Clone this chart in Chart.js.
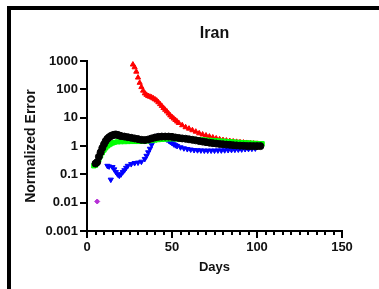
<!DOCTYPE html>
<html>
<head>
<meta charset="utf-8">
<script src="https://cdn.jsdelivr.net/npm/chart.js@4"></script>
<style>
  html, body { margin: 0; padding: 0; background: #fff; }
  #wrap { position: relative; width: 379px; height: 289px; overflow: hidden; }
  #frame { position: absolute; left: 7px; top: 6px; width: 400px; height: 300px;
           border-left: 4px solid #000; border-top: 4px solid #000; }
  canvas { position: absolute; left: 0; top: 0; }
</style>
</head>
<body>
<div id="wrap">
  <div id="frame"></div>
  <canvas id="chart" width="379" height="289"></canvas>
</div>
<script>
// ---- data --------------------------------------------------------
const Y_TICKS = [0.001, 0.01, 0.1, 1, 10, 100, 1000];

const purpleDays = [6];
const purpleVals = [0.011];

const redDays = [27, 28, 29, 30, 31, 32, 33, 34, 35, 36, 37, 38, 39, 40, 41, 42, 43, 44, 45, 46, 47, 48, 49, 50,
  51, 52, 53, 54, 56, 58, 60, 62, 64, 66, 68, 70, 72, 74, 76, 78, 80, 82, 84, 86, 88, 90, 92, 94, 96, 98, 100];
const redVals = [750, 600, 420, 260, 170, 120, 90, 72, 64, 58, 55, 52, 48, 44, 40, 35, 30, 26, 22, 19, 16.5, 14, 12, 10.5,
  9.3, 8.3, 7.3, 6.5, 5.4, 4.6, 4.1, 3.6, 3.2, 2.8, 2.55, 2.35, 2.15, 2.0, 1.85, 1.72, 1.62, 1.55, 1.5, 1.45, 1.4, 1.36, 1.32, 1.28, 1.25, 1.22, 1.2];

const blueDays = [12, 13, 14, 15, 16, 17, 18, 19, 20, 21, 22, 23, 24, 26, 28, 30, 32, 34, 35, 36, 37, 38, 39, 40, 41, 42, 43,
  44, 45, 46, 47, 48, 49, 50, 51, 52, 53, 55, 57, 59, 61, 63, 65, 67, 69, 71, 73, 75, 77, 79, 81, 83, 85, 87, 89, 91, 93, 95, 97, 99];
const blueVals = [0.2, 0.19, 0.065, 0.18, 0.15, 0.12, 0.1, 0.09, 0.1, 0.12, 0.14, 0.17, 0.2, 0.23, 0.25, 0.26, 0.28, 0.35, 0.45, 0.6, 0.8, 1.1, 1.5, 1.9, 2.2, 2.3, 2.2,
  2.1, 2.0, 1.85, 1.7, 1.55, 1.4, 1.28, 1.15, 1.07, 1.0, 0.9, 0.83, 0.78, 0.75, 0.72, 0.71, 0.7, 0.69, 0.69, 0.69, 0.69, 0.7, 0.7, 0.71, 0.72, 0.73, 0.74, 0.75, 0.76, 0.78, 0.79, 0.8, 0.82];

const greenDays = [4, 5, 6, 7, 8, 9, 10, 11, 12, 13, 14, 15, 16, 18, 20, 22, 24, 26, 28, 30, 32, 34, 36, 38, 40, 42, 44, 46, 48,
  50, 52, 54, 56, 58, 60, 62, 64, 66, 68, 70, 72, 74, 76, 78, 80, 82, 84, 86, 88, 90, 92, 94, 96, 98, 100, 102, 103];
const greenVals = [0.2, 0.21, 0.25, 0.33, 0.45, 0.58, 0.72, 0.86, 1.0, 1.1, 1.2, 1.28, 1.34, 1.4, 1.42, 1.43, 1.44, 1.45, 1.45, 1.45, 1.46, 1.48, 1.52, 1.56, 1.62, 1.68, 1.72, 1.75, 1.78,
  1.8, 1.78, 1.76, 1.74, 1.73, 1.72, 1.7, 1.69, 1.67, 1.65, 1.62, 1.59, 1.56, 1.53, 1.5, 1.48, 1.45, 1.42, 1.39, 1.36, 1.33, 1.31, 1.29, 1.27, 1.25, 1.22, 1.2, 1.2];

const blackDays = [5, 6, 7, 8, 9, 10, 11, 12, 13, 14, 15, 16, 17, 18, 19, 20, 22, 24, 26, 28, 30, 32, 34, 36, 38, 40, 42, 44, 46, 48,
  50, 52, 54, 56, 58, 60, 62, 64, 66, 68, 70, 72, 74, 76, 78, 80, 82, 84, 86, 88, 90, 92, 94, 96, 98, 100, 102];
const blackVals = [0.24, 0.27, 0.42, 0.6, 0.85, 1.15, 1.5, 1.8, 2.05, 2.25, 2.4, 2.5, 2.55, 2.45, 2.35, 2.25, 2.15, 2.05, 1.95, 1.85, 1.75, 1.65, 1.62, 1.7, 1.85, 2.0, 2.1, 2.15, 2.15, 2.15,
  2.1, 2.0, 1.92, 1.85, 1.8, 1.72, 1.65, 1.58, 1.5, 1.43, 1.37, 1.31, 1.26, 1.22, 1.18, 1.15, 1.12, 1.1, 1.07, 1.05, 1.03, 1.02, 1.0, 1.0, 0.99, 0.99, 0.99];

const FONT = "'Liberation Sans', Arial, sans-serif";
const INK = "#111";

function pts(days, vals) {
  return days.map((d, i) => ({ x: d, y: vals[i] }));
}

function series(days, vals, color, style, radius, order, rotation) {
  return {
    data: pts(days, vals),
    backgroundColor: color,
    borderColor: color,
    borderWidth: 1,
    pointStyle: style,
    pointRadius: radius,
    rotation: rotation || 0,
    showLine: false,
    order,
  };
}

// longer tick marks at the labelled x values
const majorTicks = {
  id: "majorTicks",
  afterDraw(chart) {
    const sx = chart.scales.x;
    const ctx = chart.ctx;
    ctx.save();
    ctx.strokeStyle = "#000";
    ctx.lineWidth = 2;
    sx.ticks.forEach((t) => {
      if (t.value % 50 !== 0) return;
      const px = sx.getPixelForValue(t.value);
      ctx.beginPath();
      ctx.moveTo(px, sx.top);
      ctx.lineTo(px, sx.top + 7);
      ctx.stroke();
    });
    ctx.restore();
  },
};

new Chart(document.getElementById("chart"), {
  type: "scatter",
  data: {
    datasets: [
      series(purpleDays, purpleVals, "#b62fd6", "rectRot", 2.5, 0),
      series(blackDays, blackVals, "#000000", "circle", 3.5, 1),
      series(greenDays, greenVals, "#00ff00", "rect", 3, 2),
      series(blueDays, blueVals, "#0000ff", "triangle", 3, 3, 180),
      series(redDays, redVals, "#ff0000", "triangle", 3, 4),
    ],
  },
  options: {
    responsive: false,
    animation: false,
    layout: { padding: { left: 0, top: 0, right: 37, bottom: 14 } },
    plugins: { legend: { display: false }, tooltip: { enabled: false } },
    scales: {
      x: {
        type: "linear",
        min: 0,
        max: 150,
        afterFit: (s) => { s.height = 44; },
        border: { color: "#000", width: 2 },
        grid: { drawOnChartArea: false, color: "#000", tickLength: 4, lineWidth: 2 },
        ticks: {
          stepSize: 5,
          autoSkip: false,
          maxRotation: 0,
          padding: 5,
          color: INK,
          font: { family: FONT, size: 13, weight: "bold" },
          callback: (v) => (v % 50 === 0 ? String(v) : ""),
        },
        title: {
          display: true,
          text: "Days",
          color: INK,
          padding: { top: 0, bottom: 0 },
          font: { family: FONT, size: 13, weight: "bold" },
        },
      },
      top: {
        type: "linear",
        position: "top",
        min: 0,
        max: 150,
        afterFit: (s) => { s.height = 61; },
        border: { display: false },
        grid: { display: false },
        ticks: { display: false },
        title: {
          display: true,
          text: "Iran",
          color: INK,
          padding: { top: 24, bottom: 0 },
          font: { family: FONT, size: 16, weight: "bold" },
        },
      },
      y: {
        type: "logarithmic",
        min: 0.001,
        max: 1000,
        afterFit: (s) => { s.width = 87; },
        afterBuildTicks: (s) => { s.ticks = Y_TICKS.map((v) => ({ value: v })); },
        border: { color: "#000", width: 2 },
        grid: { drawOnChartArea: false, color: "#000", tickLength: 7, lineWidth: 2 },
        ticks: {
          padding: 2,
          color: INK,
          font: { family: FONT, size: 13, weight: "bold" },
          callback: (v) => String(v),
        },
        title: {
          display: true,
          text: "Normalized Error",
          color: INK,
          padding: { top: 23, bottom: 0 },
          font: { family: FONT, size: 14, weight: "bold" },
        },
      },
    },
  },
  plugins: [majorTicks],
});
</script>
</body>
</html>
